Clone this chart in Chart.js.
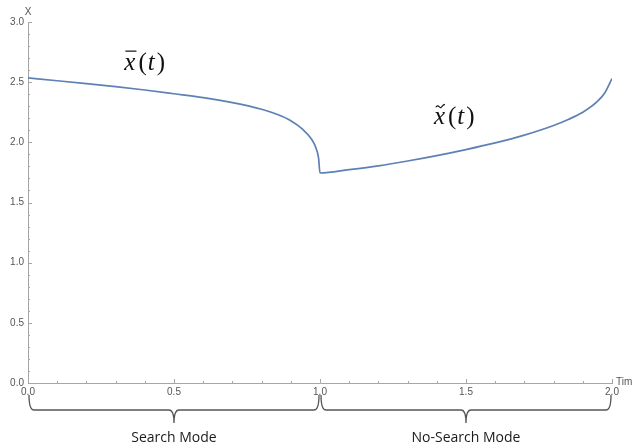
<!DOCTYPE html>
<html>
<head>
<meta charset="utf-8">
<script src="https://cdn.jsdelivr.net/npm/chart.js@4/dist/chart.umd.min.js"></script>
<style>
  html, body { margin: 0; padding: 0; background: #fff; }
  #chart { display: block; }
</style>
</head>
<body>
<canvas id="chart" width="632" height="447"></canvas>
<script>
// time values and x(t)
const times = [0.0, 0.1, 0.2, 0.3, 0.4, 0.5, 0.6, 0.7, 0.8, 0.85, 0.9, 0.94, 0.97, 0.985, 0.995, 1.0,
  1.1, 1.2, 1.3, 1.4, 1.5, 1.6, 1.7, 1.8, 1.85, 1.9, 1.95, 1.975, 2.0];
const xValues = [2.535, 2.512, 2.488, 2.463, 2.435, 2.404, 2.372, 2.33, 2.275, 2.235, 2.18, 2.11, 2.03, 1.96, 1.87, 1.745,
  1.773, 1.805, 1.845, 1.89, 1.94, 1.995, 2.06, 2.14, 2.19, 2.25, 2.34, 2.41, 2.53];
const xTicks = [0, 0.5, 1.0, 1.5, 2.0];
const yTicks = [0, 0.5, 1.0, 1.5, 2.0, 2.5, 3.0];
const modes = [
  { label: "Search Mode", from: 0, to: 1 },
  { label: "No-Search Mode", from: 1, to: 2 },
];

const axisGray = "#a6a6a6";
const labelGray = "#555";

const points = times.map((t, i) => ({ x: t, y: xValues[i] }));

function brace(ctx, x1, x2) {
  const xm = (x1 + x2) / 2;
  const top = 395, mid = 410, tip = 423;
  ctx.beginPath();
  ctx.moveTo(x1 + 1, top);
  ctx.quadraticCurveTo(x1 + 1, mid, x1 + 6, mid);
  ctx.lineTo(xm - 5, mid);
  ctx.quadraticCurveTo(xm, mid, xm, tip);
  ctx.moveTo(xm, tip);
  ctx.quadraticCurveTo(xm, mid, xm + 5, mid);
  ctx.lineTo(x2 - 6, mid);
  ctx.quadraticCurveTo(x2 - 1, mid, x2 - 1, top);
  ctx.stroke();
}

const extras = {
  id: "extras",
  afterDraw(chart) {
    const { ctx, scales: { x, y } } = chart;
    const x0 = x.getPixelForValue(0);
    const y0 = y.getPixelForValue(0);
    ctx.save();
    // inward tick marks
    ctx.strokeStyle = axisGray;
    ctx.lineWidth = 1;
    ctx.beginPath();
    for (let i = 0; i <= 20; i++) {
      const px = Math.round(x.getPixelForValue(i / 10)) + 0.5;
      const len = i % 5 === 0 ? 4 : 2;
      ctx.moveTo(px, y0);
      ctx.lineTo(px, y0 - len);
    }
    for (let i = 0; i <= 30; i++) {
      const py = Math.round(y.getPixelForValue(i / 10)) + 0.5;
      const len = i % 5 === 0 ? 4 : 2;
      ctx.moveTo(x0, py);
      ctx.lineTo(x0 + len, py);
    }
    ctx.stroke();

    // axis names
    ctx.fillStyle = labelGray;
    ctx.font = "10px 'Liberation Sans', Arial, sans-serif";
    ctx.textAlign = "center";
    ctx.textBaseline = "alphabetic";
    ctx.fillText("X", x0, 15);
    ctx.textAlign = "left";
    ctx.fillText("Time", x.getPixelForValue(2) + 4, y0 + 2);

    // braces and mode names
    ctx.strokeStyle = "#555";
    ctx.lineWidth = 1.3;
    ctx.fillStyle = "#1a1a1a";
    ctx.font = "14px 'Open Sans', sans-serif";
    ctx.textAlign = "center";
    modes.forEach((m) => {
      const a = x.getPixelForValue(m.from);
      const b = x.getPixelForValue(m.to);
      brace(ctx, a, b);
      ctx.fillText(m.label, (a + b) / 2, 442);
    });

    // curve labels
    ctx.fillStyle = "#111";
    drawLabel(ctx, x.getPixelForValue(0.33), y.getPixelForValue(2.6), "bar");
    drawLabel(ctx, x.getPixelForValue(1.39), y.getPixelForValue(2.15), "tilde");
    ctx.restore();
  },
};

function drawLabel(ctx, px, base, mark) {
  ctx.textAlign = "left";
  ctx.textBaseline = "alphabetic";
  ctx.font = "italic 25px 'Liberation Serif', serif";
  ctx.fillText("x", px, base);
  const xw = ctx.measureText("x").width;
  ctx.lineWidth = 1.2;
  ctx.strokeStyle = "#111";
  ctx.beginPath();
  if (mark === "bar") {
    ctx.moveTo(px + 1, base - 19);
    ctx.lineTo(px + xw + 1, base - 19);
  } else {
    const tx = px + 2, ty = base - 18, w = xw - 2;
    ctx.moveTo(tx, ty + 1);
    ctx.bezierCurveTo(tx + w * 0.25, ty - 3, tx + w * 0.45, ty + 3, tx + w * 0.6, ty + 1);
    ctx.bezierCurveTo(tx + w * 0.75, ty - 1, tx + w * 0.9, ty - 2, tx + w, ty - 2);
  }
  ctx.stroke();
  let cx = px + xw + 3;
  ctx.font = "25px 'Liberation Serif', serif";
  ctx.fillText("(", cx, base);
  cx += ctx.measureText("(").width + 1;
  ctx.font = "italic 25px 'Liberation Serif', serif";
  ctx.fillText("t", cx, base);
  cx += ctx.measureText("t").width + 2;
  ctx.font = "25px 'Liberation Serif', serif";
  ctx.fillText(")", cx, base);
}

new Chart(document.getElementById("chart"), {
  type: "scatter",
  data: {
    datasets: [
      {
        data: points,
        showLine: true,
        borderColor: "#5e81b5",
        borderWidth: 1.7,
        pointRadius: 0,
        cubicInterpolationMode: "monotone",
        fill: false,
      },
    ],
  },
  options: {
    responsive: false,
    animation: false,
    layout: { padding: { top: 22, right: 20, left: 0, bottom: 0 } },
    plugins: { legend: { display: false }, tooltip: { enabled: false } },
    scales: {
      x: {
        type: "linear",
        min: 0,
        max: 2,
        afterFit: (s) => { s.height = 64; },
        afterBuildTicks: (s) => { s.ticks = xTicks.map((v) => ({ value: v })); },
        grid: { display: false, drawTicks: false },
        border: { display: true, color: axisGray, width: 1 },
        ticks: {
          padding: 3,
          autoSkip: false,
          maxRotation: 0,
          color: labelGray,
          font: { family: "'Liberation Sans', Arial, sans-serif", size: 10 },
          callback: (v) => Number(v).toFixed(1),
        },
      },
      y: {
        type: "linear",
        min: 0,
        max: 3,
        afterFit: (s) => { s.width = 28; },
        afterBuildTicks: (s) => { s.ticks = yTicks.map((v) => ({ value: v })); },
        grid: { display: false, drawTicks: false },
        border: { display: true, color: axisGray, width: 1 },
        ticks: {
          padding: 4,
          autoSkip: false,
          color: labelGray,
          font: { family: "'Liberation Sans', Arial, sans-serif", size: 10 },
          callback: (v) => Number(v).toFixed(1),
        },
      },
    },
  },
  plugins: [extras],
});
</script>
</body>
</html>
